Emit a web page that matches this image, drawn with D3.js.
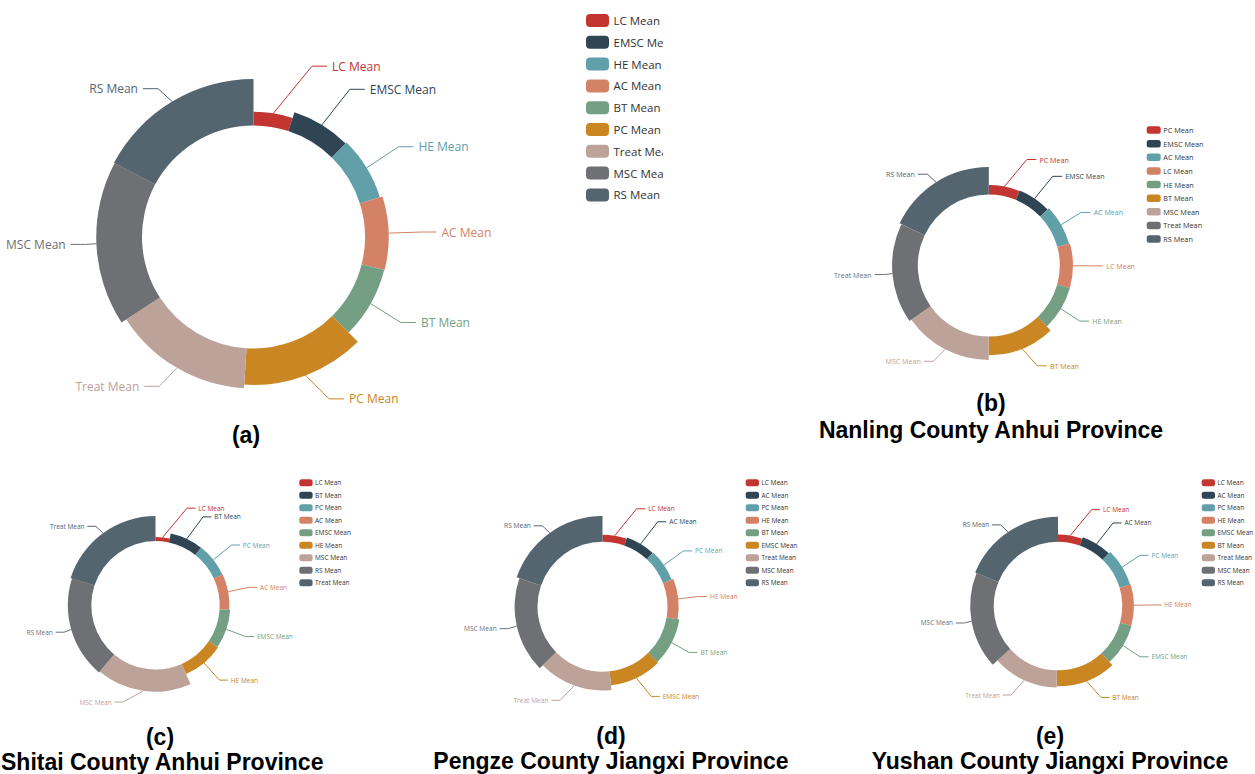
<!DOCTYPE html>
<html>
<head>
<meta charset="utf-8">
<script src="https://cdn.jsdelivr.net/npm/d3@7"></script>
<style>
  html, body { margin: 0; padding: 0; background: #ffffff; }
  svg { display: block; }
</style>
</head>
<body>
<svg id="fig" width="1255" height="774"></svg>
<script>
// Shared colour cycle, applied by item order in each ring
const palette = ["#c23531", "#2f4554", "#61a0a8", "#d48265", "#749f83",
                 "#ca8622", "#bda29a", "#6e7074", "#546570"];

// (a) overall
const namesA  = ["LC Mean", "EMSC Mean", "HE Mean", "AC Mean", "BT Mean", "PC Mean", "Treat Mean", "MSC Mean", "RS Mean"];
const valuesA = [18.2, 26.4, 28.0, 31.6, 31.0, 48.5, 53.5, 61.0, 62.0];

// (b) Nanling County
const namesB  = ["PC Mean", "EMSC Mean", "AC Mean", "LC Mean", "HE Mean", "BT Mean", "MSC Mean", "Treat Mean", "RS Mean"];
const valuesB = [22.4, 24.0, 28.4, 30.8, 30.8, 43.7, 55.0, 60.3, 64.7];

// (c) Shitai County
const namesC  = ["LC Mean", "BT Mean", "PC Mean", "AC Mean", "EMSC Mean", "HE Mean", "MSC Mean", "RS Mean", "Treat Mean"];
const valuesC = [12.0, 26.3, 27.0, 28.0, 30.5, 32.0, 64.0, 67.7, 72.0];

// (d) Pengze County
const namesD  = ["LC Mean", "AC Mean", "PC Mean", "HE Mean", "BT Mean", "EMSC Mean", "Treat Mean", "MSC Mean", "RS Mean"];
const valuesD = [19.5, 23.5, 25.6, 30.8, 35.7, 38.5, 51.7, 63.3, 71.0];

// (e) Yushan County
const namesE  = ["LC Mean", "AC Mean", "PC Mean", "HE Mean", "EMSC Mean", "BT Mean", "Treat Mean", "MSC Mean", "RS Mean"];
const valuesE = [19.8, 24.2, 29.6, 31.6, 32.2, 43.6, 47.0, 64.0, 68.0];

const panelLetters = ["(a)", "(b)", "(c)", "(d)", "(e)"];
const panelTitles  = ["", "Nanling County Anhui Province", "Shitai County Anhui Province",
                      "Pengze County Jiangxi Province", "Yushan County Jiangxi Province"];

// Geometry and styling of each panel
const panels = [
  { names: namesA, values: valuesA, cx: 253.5, cy: 237,   r0: 111.5, R: 158,  s: 1.0,   font: 12,
    legend: { x: 586,    y: 20.5,  step: 21.8, sw: 23,   sh: 13,  rx: 4,   tx: 27.5, font: 11.5, clip: 663 },
    title: { x: 246,  yLetter: 443, yName: 0 } },
  { names: namesB, values: valuesB, cx: 988.8, cy: 265.5, r0: 71,    R: 98.6, s: 0.63,  font: 7.1,
    legend: { x: 1146.7, y: 130,   step: 13.63, sw: 14,  sh: 7.5, rx: 2.5, tx: 16.6, font: 7.3 },
    title: { x: 991,  yLetter: 411, yName: 438 } },
  { names: namesC, values: valuesC, cx: 155.5, cy: 605.3, r0: 64.2,  R: 89.2, s: 0.565, font: 6.5,
    legend: { x: 299.3,  y: 482.7, step: 12.5, sw: 13.3, sh: 7,   rx: 2.5, tx: 15.7, font: 6.5 },
    title: { x: 160,  yLetter: 745, yName: 770 } },
  { names: namesD, values: valuesD, cx: 602.5, cy: 606.7, r0: 65,    R: 90.7, s: 0.578, font: 6.6,
    legend: { x: 745.7,  y: 482.7, step: 12.5, sw: 13.3, sh: 7,   rx: 2.5, tx: 15.7, font: 6.5 },
    title: { x: 611,  yLetter: 744, yName: 769 } },
  { names: namesE, values: valuesE, cx: 1058,  cy: 606,   r0: 64.3,  R: 89.3, s: 0.568, font: 6.5,
    legend: { x: 1201.7, y: 482.7, step: 12.5, sw: 13.3, sh: 7,   rx: 2.5, tx: 15.7, font: 6.5 },
    title: { x: 1050, yLetter: 744, yName: 769 } }
];

const svg = d3.select("#fig");
const labelFont = "'Open Sans', 'Noto Sans', sans-serif";
const titleFont = "'Liberation Sans', Arial, sans-serif";

function drawRose(g, p) {
  const data = p.names.map((n, i) => ({ name: n, v: p.values[i], color: palette[i] }));
  const pie = d3.pie().sort(null).value(d => d.v).startAngle(0).endAngle(2 * Math.PI);
  const arcs = pie(data);
  // radius encodes the value as well as the angle (nightingale "radius" rose)
  const rScale = d3.scaleLinear().domain([0, d3.max(p.values)]).range([p.r0, p.R]);
  const arcGen = d3.arc().innerRadius(p.r0).outerRadius(d => rScale(d.data.v));

  const root = g.append("g").attr("transform", `translate(${p.cx},${p.cy})`);
  root.selectAll("path.slice").data(arcs).join("path")
    .attr("class", "slice")
    .attr("d", arcGen)
    .attr("fill", d => d.data.color);

  // outside labels with two-segment leader lines
  const L1 = 15 * p.s, L2 = 15 * p.s, gap = 5 * p.s;
  const items = arcs.map(d => {
    const a = (d.startAngle + d.endAngle) / 2;
    const sx = Math.sin(a), sy = -Math.cos(a);
    const ro = rScale(d.data.v);
    return { d, dir: sx < 0 ? -1 : 1, p0: [ro * sx, ro * sy], y: (p.R + L1) * sy, h: p.font * 1.25 };
  });
  const Rt = p.R + L1 + L2;
  [-1, 1].forEach(dir => {
    const list = items.filter(it => it.dir === dir).sort((a, b) => a.y - b.y);
    for (let i = 1; i < list.length; i++) {
      const minY = list[i - 1].y + list[i - 1].h;
      if (list[i].y < minY) list[i].y = minY;
    }
    let last = 0;
    list.filter(it => it.y < 0).forEach(it => {
      let dx = Math.sqrt(Math.max(Rt * Rt - it.y * it.y, 0));
      if (dx <= last) dx = last + 10 * p.s;
      it.x = dx * dir; last = dx;
    });
    last = Infinity;
    list.filter(it => it.y >= 0).forEach(it => {
      let dx = Math.sqrt(Math.max(Rt * Rt - it.y * it.y, 0));
      if (dx >= last) dx = last - 10 * p.s;
      it.x = dx * dir; last = dx;
    });
  });

  const line = d3.line();
  root.selectAll("path.leader").data(items).join("path")
    .attr("class", "leader")
    .attr("d", it => line([it.p0, [it.x - it.dir * (gap + L2), it.y], [it.x - it.dir * gap, it.y]]))
    .attr("fill", "none")
    .attr("stroke", it => it.d.data.color)
    .attr("stroke-width", 1);

  root.selectAll("text.lbl").data(items).join("text")
    .attr("class", "lbl")
    .attr("x", it => it.x)
    .attr("y", it => it.y)
    .attr("text-anchor", it => it.dir < 0 ? "end" : "start")
    .attr("dominant-baseline", "central")
    .attr("font-family", labelFont)
    .attr("font-size", p.font)
    .attr("fill", it => it.d.data.color)
    .text(it => it.d.data.name);
}

function drawLegend(g, p, idx) {
  const lg = p.legend;
  const leg = g.append("g");
  if (lg.clip) {
    const id = "legclip" + idx;
    svg.append("defs").append("clipPath").attr("id", id)
      .append("rect").attr("x", 0).attr("y", 0).attr("width", lg.clip).attr("height", 774);
    leg.attr("clip-path", `url(#${id})`);
  }
  const rows = leg.selectAll("g.item").data(p.names).join("g")
    .attr("class", "item")
    .attr("transform", (d, i) => `translate(${lg.x},${lg.y + i * lg.step})`);
  rows.append("rect")
    .attr("x", 0).attr("y", -lg.sh / 2)
    .attr("width", lg.sw).attr("height", lg.sh)
    .attr("rx", lg.rx).attr("ry", lg.rx)
    .attr("fill", (d, i) => palette[i]);
  rows.append("text")
    .attr("x", lg.tx).attr("y", 0)
    .attr("dominant-baseline", "central")
    .attr("font-family", labelFont)
    .attr("font-size", lg.font)
    .attr("fill", "#333")
    .text(d => d);
}

function drawTitle(g, p, idx) {
  g.append("text")
    .attr("x", p.title.x).attr("y", p.title.yLetter)
    .attr("text-anchor", "middle")
    .attr("font-family", titleFont).attr("font-weight", "bold").attr("font-size", 23)
    .attr("fill", "#000")
    .text(panelLetters[idx]);
  if (panelTitles[idx]) {
    const t = g.append("text")
      .attr("x", p.title.x).attr("y", p.title.yName)
      .attr("text-anchor", "middle")
      .attr("font-family", titleFont).attr("font-weight", "bold").attr("font-size", 23)
      .attr("fill", "#000")
      .text(panelTitles[idx]);
    // keep the whole line inside the figure
    const w = t.node().getComputedTextLength();
    const left = p.title.x - w / 2;
    if (left < 1) t.attr("x", p.title.x + (1 - left));
  }
}

panels.forEach((p, i) => {
  const g = svg.append("g").attr("class", "panel");
  drawRose(g, p);
  drawLegend(g, p, i);
  drawTitle(g, p, i);
});
</script>
</body>
</html>
